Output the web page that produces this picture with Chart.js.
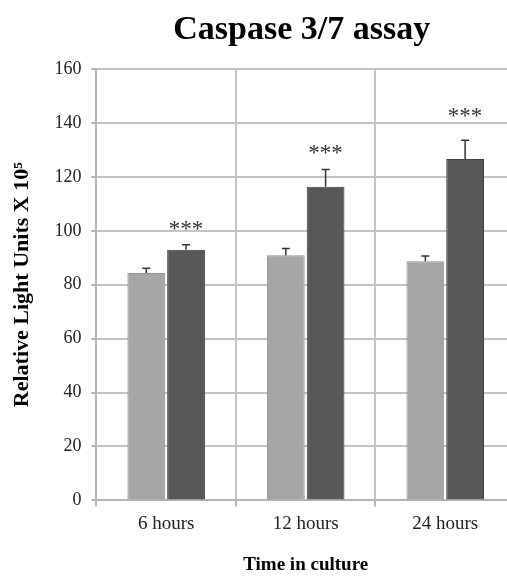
<!DOCTYPE html>
<html>
<head>
<meta charset="utf-8">
<script src="https://cdn.jsdelivr.net/npm/chart.js@4/dist/chart.umd.min.js"></script>
<style>
  html, body { margin: 0; padding: 0; background: #fff; }
  #wrap { width: 507px; height: 576px; overflow: hidden; position: relative; }
  #box { width: 522px; height: 576px; }
</style>
</head>
<body>
<div id="wrap"><div id="box"><canvas id="chart"></canvas></div></div>
<script>
// Caspase 3/7 activity, relative light units (x 10^5)
const categories = ['6 hours', '12 hours', '24 hours'];
const controlValues = [84.3, 90.9, 88.7];
const controlErrors = [1.8, 2.5, 1.9];
const treatedValues = [93.0, 116.3, 126.6];
const treatedErrors = [1.8, 6.4, 7.0];
const significance = ['***', '***', '***'];
const significanceLevels = [101.5, 129.5, 143.5];
const yTicks = [0, 20, 40, 60, 80, 100, 120, 140, 160];

const serif = "'Liberation Serif', 'Times New Roman', serif";
const errors = [controlErrors, treatedErrors];

// Upper error whiskers with a small cap
const errorBars = {
  id: 'errorBars',
  afterDatasetsDraw(chart) {
    const ctx = chart.ctx;
    const y = chart.scales.y;
    ctx.save();
    ctx.strokeStyle = '#333';
    ctx.lineWidth = 1.5;
    chart.data.datasets.forEach((ds, di) => {
      const meta = chart.getDatasetMeta(di);
      meta.data.forEach((bar, i) => {
        const top = y.getPixelForValue(ds.data[i] + errors[di][i]);
        const base = y.getPixelForValue(ds.data[i]);
        ctx.beginPath();
        ctx.moveTo(bar.x, base);
        ctx.lineTo(bar.x, top);
        ctx.moveTo(bar.x - 4, top);
        ctx.lineTo(bar.x + 4, top);
        ctx.stroke();
      });
    });
    ctx.restore();
  }
};

// Significance marks above the treated bars
const sigMarks = {
  id: 'sigMarks',
  afterDatasetsDraw(chart) {
    const ctx = chart.ctx;
    const y = chart.scales.y;
    const meta = chart.getDatasetMeta(1);
    ctx.save();
    ctx.fillStyle = '#333';
    ctx.font = '23px ' + serif;
    ctx.textAlign = 'center';
    ctx.textBaseline = 'middle';
    meta.data.forEach((bar, i) => {
      ctx.fillText(significance[i], bar.x, y.getPixelForValue(significanceLevels[i]) + 3);
    });
    ctx.restore();
  }
};

// Chart heading above the plot area
const heading = {
  id: 'heading',
  afterDraw(chart) {
    const ctx = chart.ctx;
    const a = chart.chartArea;
    ctx.save();
    ctx.fillStyle = '#000';
    ctx.font = 'bold 34px ' + serif;
    ctx.textAlign = 'center';
    ctx.textBaseline = 'alphabetic';
    ctx.fillText('Caspase 3/7 assay', (a.left + a.right) / 2 - 4, 39);
    ctx.restore();
  }
};

new Chart(document.getElementById('chart'), {
  type: 'bar',
  data: {
    labels: categories,
    datasets: [
      {
        label: 'Control',
        data: controlValues,
        backgroundColor: '#a6a6a6',
        borderColor: '#929292',
        borderWidth: 1,
        categoryPercentage: 0.57,
        barPercentage: 0.95
      },
      {
        label: 'Treated',
        data: treatedValues,
        backgroundColor: '#585858',
        borderColor: '#3e3e3e',
        borderWidth: 1,
        categoryPercentage: 0.57,
        barPercentage: 0.95
      }
    ]
  },
  options: {
    responsive: true,
    maintainAspectRatio: false,
    animation: false,
    layout: { padding: { top: 69, left: 4, right: 7, bottom: 0 } },
    plugins: {
      legend: { display: false },
      tooltip: { enabled: false },
      title: { display: false }
    },
    scales: {
      x: {
        grid: { offset: true, color: '#c4c4c4', lineWidth: 2, tickLength: 6, tickColor: '#b4b4b4' },
        border: { color: '#b4b4b4', width: 2 },
        ticks: { color: '#222', font: { family: serif, size: 19 }, padding: 6 },
        title: {
          display: true,
          text: 'Time in culture',
          color: '#000',
          font: { family: serif, size: 19, weight: 'bold' },
          padding: { top: 12, bottom: 0 }
        }
      },
      y: {
        min: 0,
        max: 160,
        afterBuildTicks(scale) { scale.ticks = yTicks.map(v => ({ value: v })); },
        grid: { color: '#c4c4c4', lineWidth: 2, tickLength: 5, tickColor: '#b4b4b4' },
        border: { color: '#b4b4b4', width: 2 },
        ticks: { color: '#222', font: { family: serif, size: 18 }, padding: 10 },
        title: {
          display: true,
          text: 'Relative Light Units X 10\u2075',
          color: '#000',
          font: { family: serif, size: 22, weight: 'bold' },
          padding: { top: 5, bottom: 9 }
        }
      }
    }
  },
  plugins: [errorBars, sigMarks, heading]
});
</script>
</body>
</html>
